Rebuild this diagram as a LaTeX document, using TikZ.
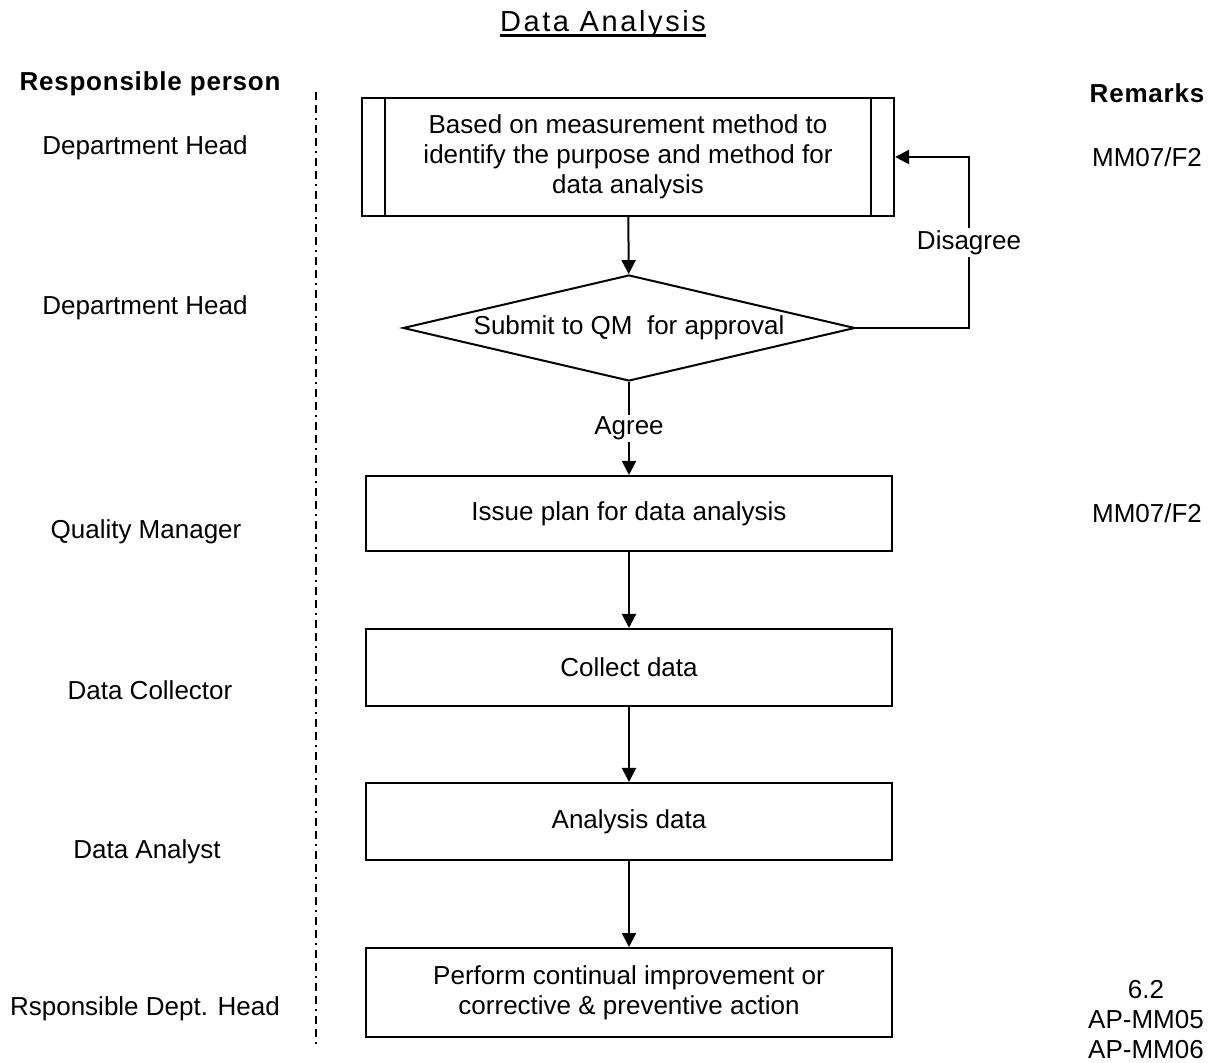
\documentclass[tikz,border=0pt]{standalone}
\usepackage{fontspec}
\setmainfont{Liberation Sans}
\usetikzlibrary{shapes.geometric}
\usetikzlibrary{arrows.meta}

\tikzset{
  stepbox/.style={draw, line width=1pt, minimum width=263pt, minimum height=37.5pt, align=center},
  flow/.style={line width=1pt, -{Triangle[length=7pt,width=7pt]}},
  head/.style={font=\fontsize{13pt}{15pt}\selectfont\bfseries\addfontfeature{LetterSpace=3}},
  divider/.style={line width=0.8pt, dash pattern=on 4pt off 2.5pt on 4pt off 2.5pt on 1pt off 2.5pt},
}

\begin{document}
\begin{tikzpicture}[x=0.5pt,y=-0.5pt, font=\fontsize{13pt}{15pt}\selectfont]
\useasboundingbox (0,0) rectangle (1216,1063);

% title
\node[inner sep=0pt, anchor=base] (title) at (603,32)
  {\fontsize{14.5pt}{17pt}\selectfont\addfontfeature{LetterSpace=9}Data Analysis};
\draw[line width=1.2pt] ([yshift=-1.75pt]title.base west) -- ([yshift=-1.75pt]title.base east);

% column headings
\node[head] (resp) at (150,84) {Responsible person};
\node[head] (remarks) at (1147,93) {Remarks};

% separator
\coordinate (septop) at (316,92);
\coordinate (sepbot) at (316,1045);
\draw[divider] (septop) -- (sepbot);

% responsible persons
\node (p1) at (145,148) {Department Head};
\node (p2) at (145,308) {Department Head};
\node (p3) at (146,532) {Quality Manager};
\node (p4) at (150,690) {Data Collector};
\node (p5) at (147,852) {Data Analyst};
\node (p6) at (145,1009) {Rsponsible Dept. Head};

% flow
\node[stepbox, minimum width=266pt, minimum height=59pt] (method) at (628,157)
  {Based on measurement method to\\identify the purpose and method for\\data analysis};
\draw[line width=1pt] ([xshift=12pt]method.north west) -- ([xshift=12pt]method.south west);
\draw[line width=1pt] ([xshift=-12pt]method.north east) -- ([xshift=-12pt]method.south east);

\node[diamond, aspect=4.26, draw, line width=1pt, minimum width=226pt, minimum height=53pt, inner sep=0pt]
  (approve) at (629,328) {Submit to QM\ \ for approval};

\node[stepbox] (issue) at (629,513.5) {Issue plan for data analysis};
\node[stepbox, minimum height=38.5pt] (collect) at (629,667.5) {Collect data};
\node[stepbox, minimum height=38.5pt] (analyse) at (629,821.5) {Analysis data};
\node[stepbox, minimum height=44.5pt] (improve) at (629,992.5)
  {Perform continual improvement or\\corrective \& preventive action};

\draw[flow] (method) -- (approve);
\draw[flow] (approve.east) -- ++(56.5pt,0) |- node[pos=0.25, fill=white, inner sep=1pt] {Disagree} (method.east);
\draw[flow] (approve) -- node[fill=white, inner sep=1pt] {Agree} (issue);
\foreach \a/\b in {issue/collect, collect/analyse, analyse/improve}
  \draw[flow] (\a) -- (\b);

% remarks
\node (r1) at (1147,157) {MM07/F2};
\node (r2) at (1147,513) {MM07/F2};
\node[align=center] (r3) at (1146,1020) {6.2\\AP-MM05\\AP-MM06};

\end{tikzpicture}
\end{document}
